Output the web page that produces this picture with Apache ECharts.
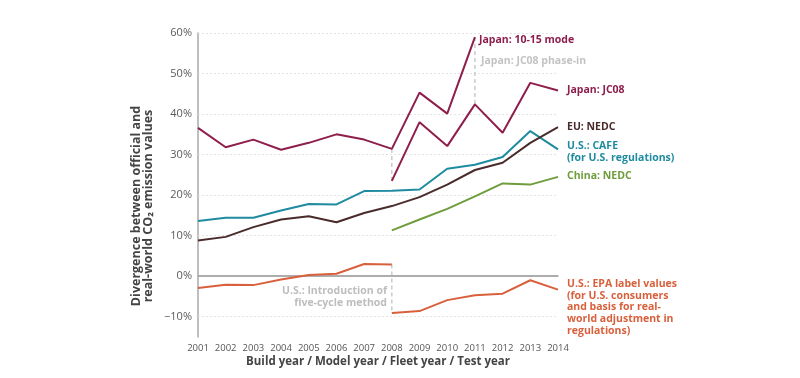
<!DOCTYPE html>
<html><head><meta charset="utf-8">
<script src="https://cdn.jsdelivr.net/npm/echarts@6/dist/echarts.min.js"></script>
<style>html,body{margin:0;padding:0;background:#fff}#c{width:800px;height:378px}</style>
</head><body><div id="c"></div>
<script>
const years = ['2001','2002','2003','2004','2005','2006','2007','2008','2009','2010','2011','2012','2013','2014'];
const yTicks = [-10, 0, 10, 20, 30, 40, 50, 60];
const japan1015 = [36.6, 31.8, 33.7, 31.2, 32.9, 35.0, 33.7, 31.4, 45.3, 40.1, 59.0, null, null, null];
const japanJC08 = [null, null, null, null, null, null, null, 23.5, 38.0, 32.1, 42.4, 35.4, 47.7, 45.8];
const usCafe = [13.6, 14.4, 14.4, 16.2, 17.8, 17.7, 21.0, 21.1, 21.4, 26.5, 27.5, 29.4, 35.8, 31.3];
const euNedc = [8.8, 9.7, 12.1, 14.0, 14.8, 13.3, 15.6, 17.3, 19.5, 22.6, 26.2, 28.0, 32.9, 36.8];
const chinaNedc = [null, null, null, null, null, null, null, 11.3, 14.0, 16.6, 19.7, 22.9, 22.6, 24.5];
const usEpaOld = [-2.9, -2.1, -2.2, -0.8, 0.3, 0.6, 3.0, 2.9, null, null, null, null, null, null];
const usEpaNew = [null, null, null, null, null, null, null, -9.1, -8.6, -5.9, -4.7, -4.3, -1.0, -3.3];
const jc08Phase = [['2011', 59.0], ['2011', 42.4]];
const japanSwitch = [['2008', 31.4], ['2008', 23.5]];
const epaSwitch = [['2008', 2.9], ['2008', -9.1]];

const C = {jp:'#8e1e4b', eu:'#4a2b2b', cafe:'#1f8ba0', cn:'#6f9d3d', epa:'#d9603c', grey:'#bdbdbd'};
const FONT = 'Open Sans';

function line(name, data, color){
  return {name, type:'line', data, symbol:'none', connectNulls:false,
    lineStyle:{color, width:2}, itemStyle:{color}, z:10};
}
function dashed(data){
  return {type:'line', data, symbol:'none', lineStyle:{color:C.grey, width:1.2, type:[4,3]}, z:5};
}
function label(x, y, lines, color, align){
  return {type:'text', left: align==='right'? undefined : x, right: align==='right'? 800-x : undefined, top: y,
    style:{text: lines.join('\n'), fill: color, font: 'bold 10.5px "'+FONT+'"', lineHeight: 11.8,
      textAlign: align||'left'}};
}

const chart = echarts.init(document.getElementById('c'));
chart.setOption({
  animation:false,
  grid:{left:198, right:242, top:33, bottom:41},
  xAxis:{type:'category', data:years, boundaryGap:false,
    axisLine:{lineStyle:{color:'#a8a8a8', width:1.5}}, axisTick:{show:false},
    axisLabel:{color:'#555', fontFamily:FONT, fontSize:9.5, margin:6, interval:0}},
  yAxis:{type:'value', min:-15, max:60, interval:5,
    axisLine:{show:true, lineStyle:{color:'#a8a8a8', width:1.5}}, axisTick:{show:false},
    splitLine:{show:false},
    axisLabel:{color:'#5a5a5a', fontFamily:FONT, fontSize:11, margin:6,
      formatter: v => yTicks.indexOf(v) >= 0 ? (v < 0 ? '\u2212' + (-v) : v) + '%' : ''}},
  series:[
    {type:'line', data:[], z:0, zlevel:0, markLine:{silent:true, symbol:'none', label:{show:false},
      data: yTicks.filter(v=>v!==0).map(v=>({yAxis:v, lineStyle:{color:'#e4e4e4', width:1, type:[2,2]}}))
        .concat([{yAxis:0, lineStyle:{color:'#a8a8a8', width:1.5, type:'solid'}}])}},
    dashed(jc08Phase), dashed(japanSwitch), dashed(epaSwitch),
    line('Japan: 10-15 mode', japan1015, C.jp),
    line('Japan: JC08', japanJC08, C.jp),
    line('U.S.: CAFE', usCafe, C.cafe),
    line('EU: NEDC', euNedc, C.eu),
    line('China: NEDC', chinaNedc, C.cn),
    line('U.S.: EPA label values', usEpaOld, C.epa),
    line('U.S.: EPA label values (5-cycle)', usEpaNew, C.epa)
  ],
  graphic:[
    label(479, 34, ['Japan: 10-15 mode'], C.jp),
    label(481, 55, ['Japan: JC08 phase-in'], '#c3c3c3'),
    label(567, 84, ['Japan: JC08'], C.jp),
    label(567, 121, ['EU: NEDC'], C.eu),
    label(567, 140, ['U.S.: CAFE', '(for U.S. regulations)'], C.cafe),
    label(567, 170, ['China: NEDC'], C.cn),
    label(567, 278, ['U.S.: EPA label values', '(for U.S. consumers', 'and basis for real-', 'world adjustment in', 'regulations)'], C.epa),
    label(387, 285, ['U.S.: Introduction of', 'five-cycle method'], '#bdbdbd', 'right'),
    {type:'text', x:378, y:362, style:{text:'Build year / Model year / Fleet year / Test year',
      fill:'#444', font:'bold 11.5px "'+FONT+'"', textAlign:'center', textVerticalAlign:'middle'}},
    {type:'text', x:142, y:206, rotation:Math.PI/2,
      style:{text:'Divergence between official and\nreal-world CO\u2082 emission values', fill:'#444',
        font:'bold 12.5px "'+FONT+'"', textAlign:'center', textVerticalAlign:'middle', lineHeight:12}}
  ]
});
</script></body></html>
